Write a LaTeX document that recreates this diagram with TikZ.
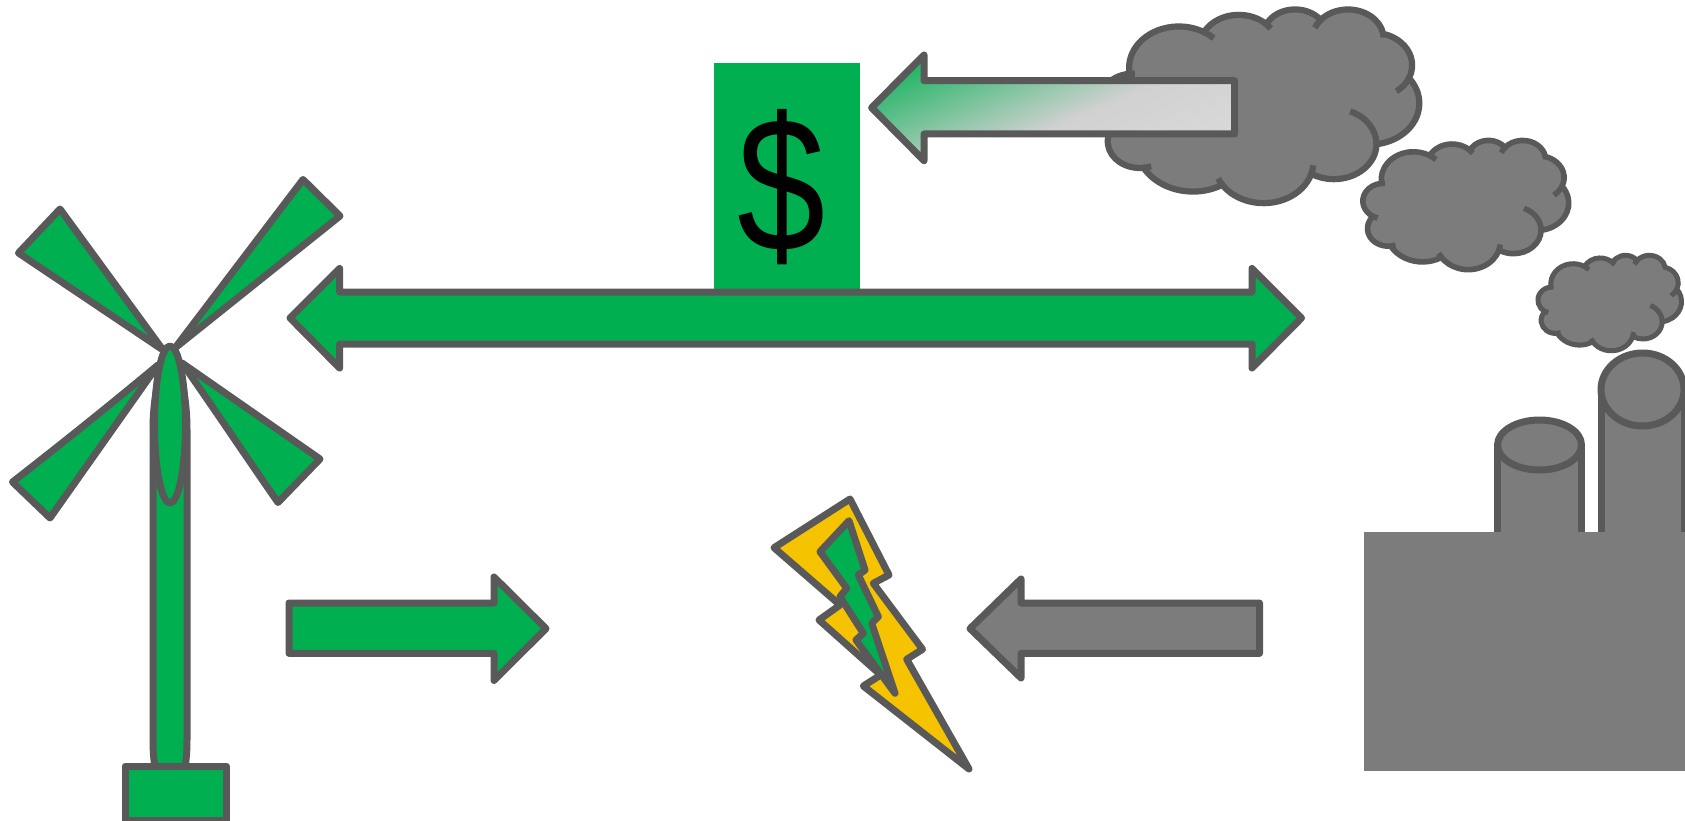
\documentclass[tikz,border=0pt]{standalone}
\usepackage{fontspec}
\setmainfont{Liberation Sans}
\definecolor{gfill}{RGB}{0,176,80}
\definecolor{gline}{RGB}{89,89,89}
\definecolor{smoke}{RGB}{124,124,124}
\definecolor{boltc}{RGB}{245,195,0}
\pgfdeclarehorizontalshading{arrowfade}{700pt}{%
  color(0pt)=(gfill); color(105pt)=(gfill);
  color(240pt)=(black!18); color(400pt)=(black!12)}
% build the cloud outline and its inner creases once, in units of 1000 on a 43.2 box
\def\cldpath{}\def\clddet{}\def\cx{3.9}\def\cy{14.37}
\newcommand\cldarc[6]{%
  \pgfmathsetmacro\tS{atan2((#1)*sin(#3),(#2)*cos(#3))}%
  \pgfmathsetmacro\aE{#3+#4}%
  \pgfmathsetmacro\tE{atan2((#1)*sin(\aE),(#2)*cos(\aE))}%
  \pgfmathsetmacro\tE{\tE<\tS ? \tE+360 : \tE}%
  \pgfmathsetmacro\ox{\cx-(#1)*cos(\tS)}%
  \pgfmathsetmacro\oy{\cy-(#2)*sin(\tS)}%
  \edef\cldpath{\cldpath arc[x radius=#1,y radius=#2,start angle=\tS,end angle=\tE] }%
  \pgfmathsetmacro\tB{\tS-(#5)}%
  \pgfmathsetmacro\pxa{\ox+(#1)*cos(\tB)}%
  \pgfmathsetmacro\pya{\oy+(#2)*sin(\tB)}%
  \pgfmathsetmacro\pxb{\ox+(#1)*cos(\tE)}%
  \pgfmathsetmacro\pyb{\oy+(#2)*sin(\tE)}%
  \pgfmathsetmacro\tF{\tE+(#6)}%
  \ifdim#5pt>0pt\edef\clddet{\clddet (\pxa,\pya) arc[x radius=#1,y radius=#2,start angle=\tB,end angle=\tS] }\fi
  \ifdim#6pt>0pt\edef\clddet{\clddet (\pxb,\pyb) arc[x radius=#1,y radius=#2,start angle=\tE,end angle=\tF] }\fi
  \let\cx\pxb\let\cy\pyb}
\cldarc{6.753}{9.19}{-190.4875}{123.7805}{0}{14}
\cldarc{5.333}{7.267}{-144.1024}{89.9452}{0}{10}
\cldarc{4.365}{5.945}{-145.8079}{99.7230}{0}{0}
\cldarc{4.857}{6.595}{-130.9861}{117.2417}{18}{7}
\cldarc{5.333}{7.273}{-78.7089}{109.0269}{0}{30}
\cldarc{6.775}{9.22}{-46.2673}{130.2690}{0}{0}
\cldarc{5.785}{7.867}{0.6250}{114.0333}{68}{0}
\cldarc{6.752}{9.215}{22.4516}{115.1726}{12}{10}
\cldarc{7.72}{10.543}{66.2426}{75.7110}{0}{0}
\cldarc{4.36}{5.918}{-274.9421}{146.7356}{14}{0}
\cldarc{4.345}{5.945}{-246.8285}{152.5189}{14}{10}
\tikzset{
  outl/.style={draw=gline,line width=7pt,line join=round},
  green part/.style={outl,fill=gfill},
  smoke part/.style={outl,fill=smoke},
  puff/.style={smoke part,line join=miter},
  crease/.style={draw=gline,line cap=butt}
}
\begin{document}
\begin{tikzpicture}[x=1pt,y=-1pt]
\useasboundingbox (0,0) rectangle (1685,821);
% turbine
\path[green part] (160,372) .. controls (155,395) and (153,410) .. (153,430) -- (153,740)
  .. controls (153,755) and (154.5,765) .. (155.5,772) -- (184.5,772)
  .. controls (185.5,765) and (187,755) .. (187,740) -- (187,430)
  .. controls (187,410) and (185,395) .. (180,372) -- cycle;
\path[green part] (60,209) -- (18.5,253) -- (163,350) -- cycle;
\path[green part] (303,179.5) -- (340,216) -- (175,348) -- cycle;
\path[green part] (12.5,482) -- (50,518) -- (158,365) .. controls (110,405) and (60,445) .. (12.5,482) -- cycle;
\path[green part] (320,459) -- (278,502.5) .. controls (245,455) and (215,410) .. (182,363) -- cycle;
\path[green part] (170,424.5) ellipse[x radius=15.5,y radius=78.5];
\path[green part] (125,766) rectangle (226.5,820);
% money and the long arrow
\fill[gfill] (713.6,62.7) rectangle (860,295);
\node[inner sep=0,xscale=0.825,font=\fontsize{192}{192}\selectfont] (dollar) at (782,187) {\$};
\path[green part] (290,318) -- (339.6,268.5) -- (339.6,292) -- (1252,292) -- (1252,268.5) -- (1301.5,318) -- (1252,368) -- (1252,344) -- (339.6,344) -- (339.6,368) -- cycle;
% clouds
\begin{scope}[shift={(1100.8,8.8)},x=7.37pt,y=-4.483pt]
  \path[puff,line width=6.2pt] (3.9,14.37) \cldpath -- cycle;
  \path[crease,line width=6.2pt] \clddet;
\end{scope}
\begin{scope}[shift={(1363,140)},x=4.76pt,y=-2.99pt]
  \path[puff,line width=5.6pt] (3.9,14.37) \cldpath -- cycle;
  \path[crease,line width=5.6pt] \clddet;
\end{scope}
\begin{scope}[shift={(1538,255)},x=3.32pt,y=-2.21pt]
  \path[puff,line width=5pt] (3.9,14.37) \cldpath -- cycle;
  \path[crease,line width=5pt] \clddet;
\end{scope}
% faded arrow
\def\fadedarrow{(871.6,107.7) -- (924,55) -- (924,80.7) -- (1234.6,80.7) -- (1234.6,134) -- (924,134) -- (924,160.7) -- cycle}
\begin{scope}
  \clip \fadedarrow;
  \node[inner sep=0,rotate=-66.3] (fade) at (1042,89) {\pgfuseshading{arrowfade}};
\end{scope}
\path[outl] \fadedarrow;
% factory
\path[smoke part] (1497.5,445) -- (1497.5,540) -- (1581.5,540) -- (1581.5,445) -- cycle;
\path[smoke part] (1539.5,445) ellipse[x radius=42,y radius=25];
\path[smoke part] (1601,389) -- (1601,540) -- (1684,540) -- (1684,389) -- cycle;
\path[smoke part] (1642.5,389.5) ellipse[x radius=41.5,y radius=36.5];
\fill[smoke] (1363.7,532) rectangle (1685,770.5);
% horizontal arrows
\path[green part] (289,603) -- (494,603) -- (494,577) -- (546,628.6) -- (494,680.4) -- (494,653.4) -- (289,653.4) -- cycle;
\path[smoke part] (970,628.6) -- (1021,579) -- (1021,603) -- (1259.5,603) -- (1259.5,653.4) -- (1021,653.4) -- (1021,678) -- cycle;
% bolt
\path[outl,fill=boltc] (850,499) -- (889,575) -- (873.3,583.3) -- (922.5,649.3) -- (906.7,659.3) -- (969,769) -- (863.3,686) -- (880.7,675) -- (819,620) -- (840,605) -- (774,547.7) -- cycle;
\path[green part] (849,520.7) -- (865,570) -- (858.3,575) -- (878.3,616.7) -- (871.7,623.3) -- (895,693.3) -- (856,640) -- (863.3,633.3) -- (840,596.7) -- (846.7,588.3) -- (820,551.7) -- cycle;
\end{tikzpicture}
\end{document}
